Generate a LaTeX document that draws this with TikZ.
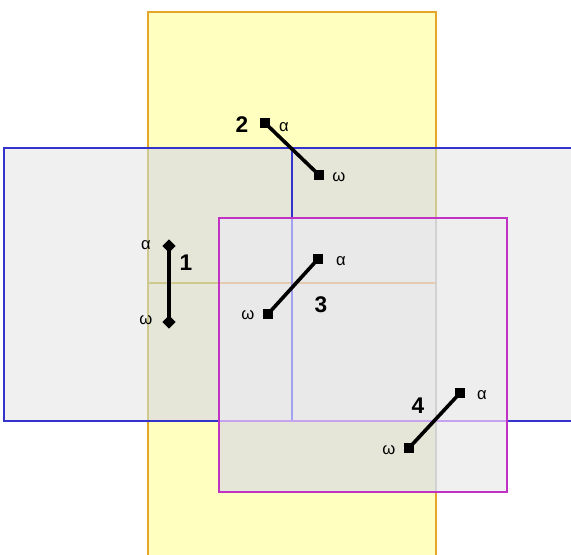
\documentclass[tikz,border=0pt]{standalone}
\usepackage{fontspec}
\setmainfont{Liberation Sans}
\usetikzlibrary{shapes.geometric}
\definecolor{ylwfill}{HTML}{FFFFC0}
\definecolor{ylwline}{HTML}{E2A62A}
\definecolor{ylwfaint}{HTML}{CFC98E}
\definecolor{ylwtan}{HTML}{E2CBB0}
\definecolor{grayline}{HTML}{D2D2D2}
\definecolor{bluefill}{HTML}{F0F0F0}
\definecolor{overlapfill}{HTML}{E6E6D8}
\definecolor{magbluefill}{HTML}{E9E9E9}
\definecolor{magonlyfill}{HTML}{EEEEEE}
\definecolor{blueline}{HTML}{3434CC}
\definecolor{bluefaint}{HTML}{A2A2F0}
\definecolor{lavline}{HTML}{C6A2F0}
\definecolor{magline}{HTML}{C032C4}
\tikzset{
  yel/.style={draw=ylwline, line width=1.6pt},
  yelfaint/.style={draw=ylwfaint, line width=1.6pt},
  bl/.style={draw=blueline, line width=1.6pt},
  mag/.style={draw=magline, line width=1.9pt},
  seg/.style={draw=black, line width=2.7pt},
  sqend/.style={rectangle, fill=black, inner sep=0pt, minimum size=7.5pt},
  dmend/.style={diamond, fill=black, inner sep=0pt, minimum size=10pt},
  num/.style={font=\fontsize{17}{19}\selectfont\bfseries, inner sep=0pt},
  greek/.style={font=\fontsize{12.5}{14}\selectfont, inner sep=0pt}
}
\begin{document}
\begin{tikzpicture}[x=0.75pt,y=-0.75pt]
\useasboundingbox (0,0) rectangle (571,555);
\clip (0,0) rectangle (571,555);
% fills
\fill[ylwfill] (148,12) rectangle (436,560);
\fill[bluefill] (4,148) rectangle (580,421);
\fill[overlapfill] (148,148) rectangle (436,421);
\fill[magbluefill] (219,218) rectangle (436,421);
\fill[magonlyfill] (436,218) rectangle (507,421);
\fill[overlapfill] (219,421) rectangle (436,492);
\fill[bluefill] (436,421) rectangle (507,492);
% yellow edges
\draw[yel] (148,560) -- (148,421);
\draw[yel] (148,148) -- (148,12) -- (436,12) -- (436,148);
\draw[yel] (436,492) -- (436,560);
\draw[yelfaint] (148,148) -- (148,421);
\draw[yelfaint] (436,148) -- (436,218);
\draw[draw=grayline, line width=1.6pt] (436,218) -- (436,492);
\draw[yelfaint] (148,283) -- (219,283);
\draw[draw=ylwtan, line width=1.6pt] (219,283) -- (436,283);
% blue
\draw[bl] (4,148) rectangle (580,421);
\draw[bl] (292,148) -- (292,218);
\draw[draw=bluefaint, line width=1.4pt] (292,218) -- (292,421);
\draw[draw=lavline, line width=1.6pt] (219,421) -- (507,421);
% magenta
\draw[mag] (219,218) rectangle (507,492);
% segment 1
\node[dmend] (a1) at (169,246) {};
\node[dmend] (w1) at (169,322) {};
\draw[seg] (a1.center) -- (w1.center);
\node[greek] (la1) at (146,245) {α};
\node[greek] (lw1) at (146,320) {ω};
\node[num] (n1) at (186,263) {1};
% segment 2
\node[sqend] (a2) at (265,123) {};
\node[sqend] (w2) at (319,175) {};
\draw[seg] (a2.center) -- (w2.center);
\node[greek] (la2) at (284,127) {α};
\node[greek] (lw2) at (339,177) {ω};
\node[num] (n2) at (242,125) {2};
% segment 3
\node[sqend] (a3) at (318,259) {};
\node[sqend] (w3) at (268,314) {};
\draw[seg] (a3.center) -- (w3.center);
\node[greek] (la3) at (341,261) {α};
\node[greek] (lw3) at (248,315) {ω};
\node[num] (n3) at (321,305) {3};
% segment 4
\node[sqend] (a4) at (460,393) {};
\node[sqend] (w4) at (409,448) {};
\draw[seg] (a4.center) -- (w4.center);
\node[greek] (la4) at (482,395) {α};
\node[greek] (lw4) at (389,450) {ω};
\node[num] (n4) at (418,406) {4};
\end{tikzpicture}
\end{document}
